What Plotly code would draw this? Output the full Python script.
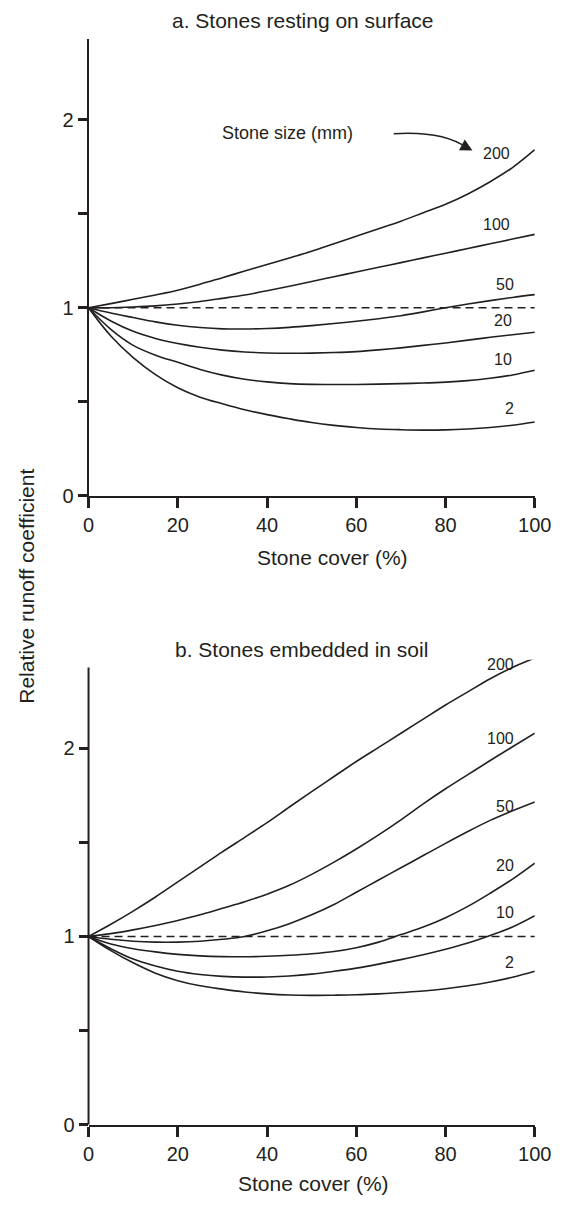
import plotly.graph_objects as go

# Stone cover (%) at which each curve is sampled
cover = [0, 5, 10, 15, 20, 25, 30, 35, 40, 45, 50,
         55, 60, 65, 70, 75, 80, 85, 90, 95, 100]
stone_sizes = ["200", "100", "50", "20", "10", "2"]

# a. Stones resting on surface: relative runoff coefficient per stone size (mm)
surface = {
    "200": [1.0, 1.022, 1.045, 1.068, 1.093, 1.125, 1.16, 1.195, 1.23, 1.265, 1.30,
            1.34, 1.38, 1.42, 1.46, 1.505, 1.55, 1.605, 1.67, 1.745, 1.84],
    "100": [1.0, 1.0, 1.004, 1.01, 1.02, 1.033, 1.05, 1.068, 1.09, 1.114, 1.14,
            1.165, 1.19, 1.215, 1.24, 1.265, 1.29, 1.315, 1.34, 1.365, 1.39],
    "50": [1.0, 0.972, 0.948, 0.925, 0.907, 0.895, 0.888, 0.887, 0.89, 0.896, 0.905,
           0.916, 0.928, 0.942, 0.958, 0.978, 1.0, 1.02, 1.038, 1.055, 1.07],
    "20": [1.0, 0.93, 0.875, 0.837, 0.81, 0.79, 0.775, 0.765, 0.76, 0.758, 0.759,
           0.762, 0.767, 0.776, 0.787, 0.80, 0.813, 0.828, 0.843, 0.857, 0.87],
    "10": [1.0, 0.885, 0.80, 0.748, 0.71, 0.672, 0.642, 0.62, 0.606, 0.597, 0.593,
           0.592, 0.592, 0.594, 0.597, 0.60, 0.605, 0.613, 0.625, 0.643, 0.668],
    "2": [1.0, 0.85, 0.735, 0.645, 0.575, 0.525, 0.49, 0.458, 0.432, 0.41, 0.39,
          0.375, 0.364, 0.356, 0.352, 0.35, 0.351, 0.356, 0.364, 0.376, 0.393],
}

# b. Stones embedded in soil
embedded = {
    "200": [1.0, 1.065, 1.135, 1.21, 1.29, 1.37, 1.45, 1.527, 1.605, 1.688, 1.77,
            1.85, 1.93, 2.005, 2.08, 2.155, 2.23, 2.30, 2.37, 2.43, 2.48],
    "100": [1.0, 1.015, 1.035, 1.058, 1.085, 1.115, 1.15, 1.185, 1.225, 1.272, 1.33,
            1.395, 1.465, 1.54, 1.62, 1.705, 1.785, 1.86, 1.935, 2.008, 2.08],
    "50": [1.0, 0.985, 0.975, 0.97, 0.97, 0.975, 0.985, 1.0, 1.03, 1.068, 1.115,
           1.17, 1.235, 1.30, 1.365, 1.43, 1.495, 1.558, 1.617, 1.668, 1.715],
    "20": [1.0, 0.96, 0.935, 0.918, 0.905, 0.897, 0.893, 0.892, 0.895, 0.90, 0.908,
           0.92, 0.94, 0.97, 1.01, 1.05, 1.10, 1.16, 1.23, 1.305, 1.39],
    "10": [1.0, 0.935, 0.88, 0.843, 0.815, 0.798, 0.788, 0.784, 0.785, 0.79, 0.80,
           0.815, 0.832, 0.853, 0.877, 0.903, 0.932, 0.965, 1.005, 1.05, 1.11],
    "2": [1.0, 0.925, 0.86, 0.805, 0.765, 0.738, 0.72, 0.705, 0.695, 0.689, 0.687,
          0.688, 0.69, 0.695, 0.702, 0.71, 0.722, 0.738, 0.758, 0.783, 0.815],
}

x_ticks = [0, 20, 40, 60, 80, 100]
y_ticks = [0, 0.5, 1, 1.5, 2]
y_tick_text = ["0", "", "1", "", "2"]
reference_level = 1.0
y_axis_top = 2.43

W, H = 571, 1206
INK = "#231f20"
FONT = "Liberation Sans, Arial, Helvetica, sans-serif"
PX_PER_UNIT = 189.9  # vertical scale shared by both panels


def px(x):
    return x / W


def py(y):
    return 1 - y / H


fig = go.Figure()

panels = [("x", "y", surface), ("x2", "y2", embedded)]
for xa, ya, series in panels:
    fig.add_trace(go.Scatter(
        x=[cover[0], cover[-1]], y=[reference_level, reference_level],
        xaxis=xa, yaxis=ya, mode="lines",
        line=dict(color=INK, width=1.5, dash="8px,5px"),
        showlegend=False, hoverinfo="skip",
    ))
    for size in stone_sizes:
        fig.add_trace(go.Scatter(
            x=cover, y=series[size], xaxis=xa, yaxis=ya, mode="lines",
            line=dict(color=INK, width=1.6, shape="spline", smoothing=1.0),
            name=size + " mm", showlegend=False,
        ))

axis_common = dict(
    linecolor=INK, linewidth=2, mirror=False,
    showgrid=False, zeroline=False, ticks="outside", tickcolor=INK,
    tickwidth=2.5, tickfont=dict(family=FONT, size=20, color=INK),
)
x_dom = [px(86), px(551)]

# top panel: axis 0 at y=500.5 px; bottom panel: axis 0 at y=1135 px
top_zero, bottom_zero = 500.5, 1135
bottom_range_top = 2.47  # a little headroom so the 200 mm curve is not clipped

fig.update_layout(
    width=W, height=H,
    margin=dict(l=0, r=0, t=0, b=0),
    paper_bgcolor="white", plot_bgcolor="white",
    font=dict(family=FONT, color=INK),
    xaxis=dict(domain=x_dom, range=[0, 100], tickvals=x_ticks, ticklen=10,
               anchor="y", showline=True, **axis_common),
    yaxis=dict(domain=[py(top_zero), py(top_zero - y_axis_top * PX_PER_UNIT)],
               range=[0, y_axis_top], tickvals=y_ticks, ticktext=y_tick_text,
               ticklen=9, anchor="x", showline=True, **axis_common),
    xaxis2=dict(domain=x_dom, range=[0, 100], tickvals=x_ticks, ticklen=10,
                anchor="y2", showline=True, **axis_common),
    yaxis2=dict(domain=[py(bottom_zero), py(bottom_zero - bottom_range_top * PX_PER_UNIT)],
                range=[0, bottom_range_top], tickvals=y_ticks, ticktext=y_tick_text,
                ticklen=9, anchor="x2", showline=False, **axis_common),
)

# bottom y-axis spine stops at the same height as the top one
fig.add_shape(type="line", xref="x2 domain", yref="y2",
              x0=0, x1=0, y0=0, y1=y_axis_top,
              line=dict(color=INK, width=2), layer="above")

annotations = []


def text(s, x, y, size, angle=0):
    annotations.append(dict(
        text=s, x=px(x), y=py(y), xref="paper", yref="paper",
        showarrow=False, xanchor="center", yanchor="middle", textangle=angle,
        font=dict(family=FONT, size=size, color=INK),
    ))


# panel titles and axis titles
text("a. Stones resting on surface", 309, 21, 21)
text("b. Stones embedded in soil", 308, 655, 21)
text("Stone cover (%)", 340, 563, 21)
text("Stone cover (%)", 320, 1194, 21)
text("Relative runoff coefficient", 21, 592, 21, angle=-90)

# stone size labels beside the curve ends
surface_label_pos = [(511, 155), (511, 227), (520, 287), (518, 323), (518, 363), (525, 412)]
embedded_label_pos = [(515, 671), (515, 745), (520, 814), (520, 873), (520, 921), (525, 971)]
for size, (lx, ly) in zip(stone_sizes, surface_label_pos):
    text(size, lx, ly, 16)
for size, (lx, ly) in zip(stone_sizes, embedded_label_pos):
    text(size, lx, ly, 16)

text("Stone size (mm)", 293, 134, 18)

# arrowhead at the end of the curved pointer
annotations.append(dict(
    x=px(486), y=py(152), xref="paper", yref="paper", text="",
    showarrow=True, arrowhead=2, arrowsize=1.6, arrowwidth=1.5,
    arrowcolor=INK, ax=-11, ay=-6,
))
fig.update_layout(annotations=annotations)

# curved pointer from the "Stone size" label toward the 200 mm curve
fig.add_shape(
    type="path", xref="paper", yref="paper",
    path=f"M {px(404)},{py(135)} Q {px(455)},{py(132)} {px(480)},{py(149)}",
    line=dict(color=INK, width=1.5),
)

fig.write_html("out.html")
